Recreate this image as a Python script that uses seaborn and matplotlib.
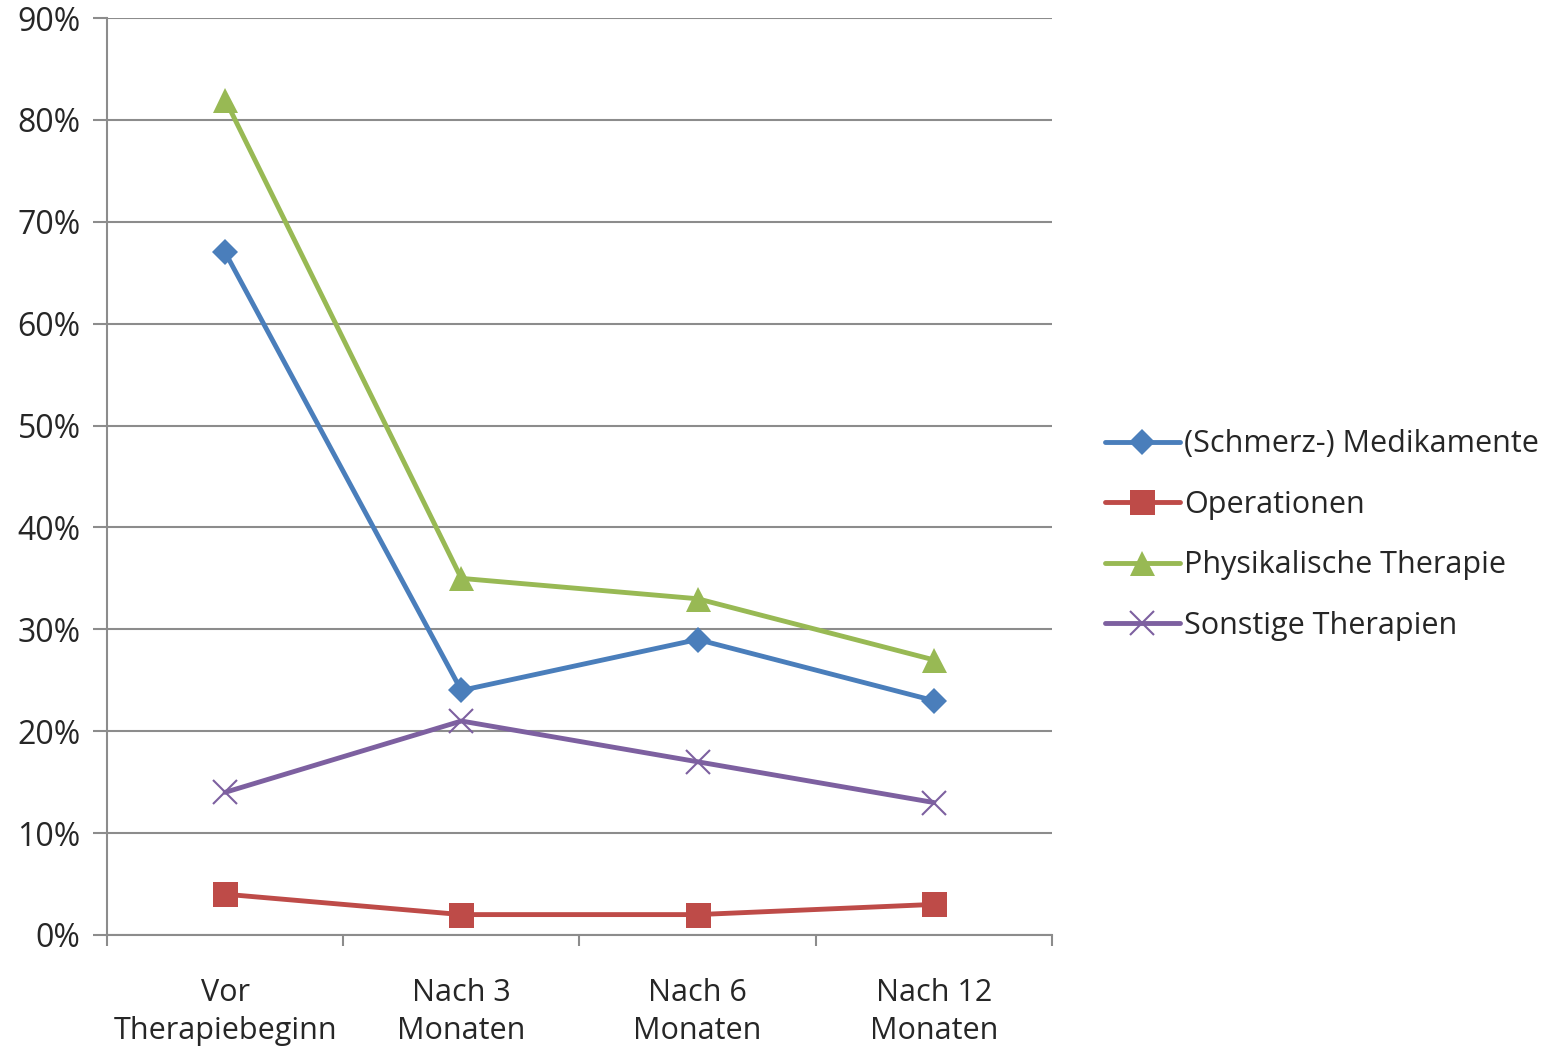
import numpy as np
import pandas as pd
import matplotlib
matplotlib.use('Agg')
import matplotlib.pyplot as plt
import seaborn as sns
from matplotlib.ticker import FixedLocator, PercentFormatter

categories = ['Vor\nTherapiebeginn', 'Nach 3\nMonaten', 'Nach 6\nMonaten', 'Nach 12\nMonaten']
series_names = ['(Schmerz-) Medikamente', 'Operationen', 'Physikalische Therapie', 'Sonstige Therapien']
medikamente = [0.67, 0.24, 0.29, 0.23]
operationen = [0.04, 0.02, 0.02, 0.03]
physikalisch = [0.82, 0.35, 0.33, 0.27]
sonstige = [0.14, 0.21, 0.17, 0.13]

colors = ['#4A7EBB', '#BE4B48', '#98B954', '#7D60A0']
markers = ['D', 's', '^', 'x']
marker_sizes = [13, 18, 18, 17]

sns.set_theme(style='white')
plt.rcParams['font.family'] = ['Open Sans', 'DejaVu Sans']

fig = plt.figure(figsize=(15.55, 10.47), dpi=100)
ax = fig.add_axes([0.0688, 0.107, 0.6077, 0.8758])

positions = np.arange(len(categories))
for name, values, color, marker, ms in zip(series_names,
                                           [medikamente, operationen, physikalisch, sonstige],
                                           colors, markers, marker_sizes):
    sns.lineplot(x=positions, y=values, ax=ax, color=color, marker=marker,
                 markersize=ms, linewidth=3.5, label=name,
                 markeredgecolor=color, markeredgewidth=1.5 if marker == 'x' else 0)

ax.set_xlim(-0.5, len(categories) - 0.5)
ax.set_ylim(0, 0.9)
ax.set_yticks(np.arange(0, 0.91, 0.1))
ax.yaxis.set_major_formatter(PercentFormatter(1.0, decimals=0))
ax.yaxis.grid(True, color='#8C8C8C', linewidth=1.5)
ax.set_axisbelow(True)

# ticks at category borders, labels at centers
ax.xaxis.set_major_locator(FixedLocator(np.arange(-0.5, len(categories), 1.0)))
ax.xaxis.set_minor_locator(FixedLocator(positions))
ax.set_xticklabels([''] * 5)
ax.set_xticklabels(categories, minor=True, linespacing=1.35)
ax.tick_params(axis='x', which='major', length=8, width=1.5, color='#8C8C8C', bottom=True)
ax.tick_params(axis='x', which='minor', length=0, pad=31, labelsize=22)
ax.tick_params(axis='y', length=10, width=1.5, color='#8C8C8C', left=True, labelsize=23, pad=9)

for side in ['top', 'right']:
    ax.spines[side].set_visible(False)
for side in ['left', 'bottom']:
    ax.spines[side].set_color('#8C8C8C')
    ax.spines[side].set_linewidth(1.5)

ax.set_xlabel('')
ax.set_ylabel('')

ax.legend(loc='center left', bbox_to_anchor=(1.056, 0.436), frameon=False,
          fontsize=22, handlelength=2.45, handletextpad=0.15, labelspacing=1.0,
          numpoints=1, borderpad=0, borderaxespad=0)

fig.savefig('out.png', dpi=100)
